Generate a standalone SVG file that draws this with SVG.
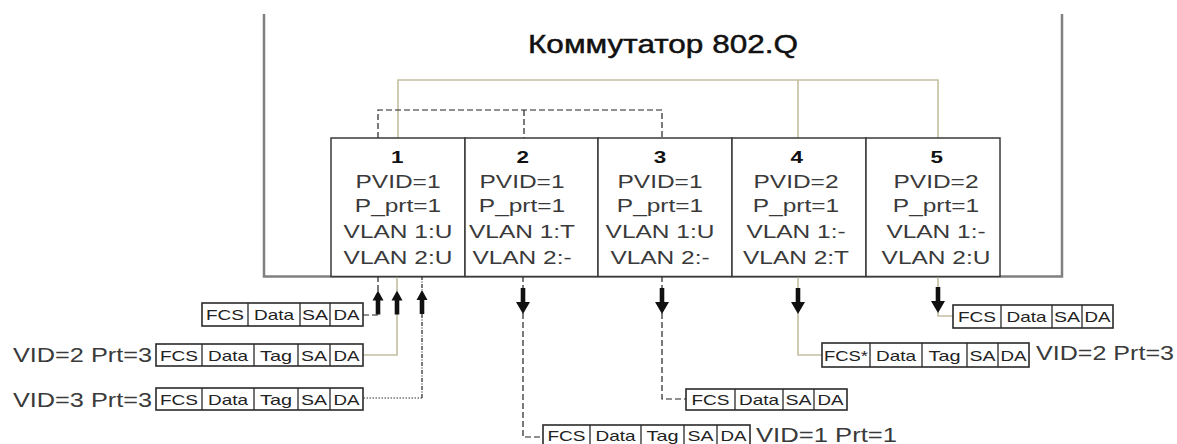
<svg xmlns="http://www.w3.org/2000/svg" width="1177" height="444" viewBox="0 0 1177 444">
<style>
text{font-family:"Liberation Sans",Arial,sans-serif;fill:#222}
.title{font-size:25px;fill:#111;stroke:#111;stroke-width:0.45}
.num{font-size:16.5px;font-weight:bold;text-anchor:middle;fill:#111}
.pl{font-size:18px;text-anchor:middle;fill:#3a3a3a}
.cell{font-size:14.5px;text-anchor:middle;fill:#222}
.lbl{font-size:20.5px;fill:#3a3a3a}
.outer{fill:none;stroke:#808080;stroke-width:2.5}
.box{fill:#fff;stroke:#3a3a3a;stroke-width:1.5}
.fr{fill:#fff;stroke:#2a2a2a;stroke-width:1.6}
.dv{stroke:#2a2a2a;stroke-width:1.3}
.tan{fill:none;stroke:#c4bfa0;stroke-width:1.6}
.dash{fill:none;stroke:#222;stroke-width:1.2;stroke-dasharray:6 3}
.dot{fill:none;stroke:#333;stroke-width:1.2;stroke-dasharray:1.5 1.5}
.dd{fill:none;stroke:#222;stroke-width:1.2;stroke-dasharray:4 1.5 1 1.5}
.arr{fill:#111}
</style>
<defs>
<path id="up" d="M0,0 L5.5,10 L2.3,10 L2.3,24 L-2.3,24 L-2.3,10 L-5.5,10 Z"/>
<path id="down" d="M0,0 L-7,-12 L-2.3,-12 L-2.3,-26 L2.3,-26 L2.3,-12 L7,-12 Z"/>
</defs>

<g id="switch">
<path class="outer" d="M264,14 V276.5 H1062 V14"/>
<text class="title" x="528" y="53" textLength="270" lengthAdjust="spacingAndGlyphs">Коммутатор 802.Q</text>
</g>

<g id="connectors">
<path class="tan" d="M398,138 V80 H938 V138 M798,80 V138"/>
<path class="dash" d="M378,138 V110 H662 V138 M524,110 V138"/>
<path class="dash" d="M378,276 V291 M378,315 H363"/>
<path class="tan" d="M397,276 V291 M397,313 V355 H363"/>
<path class="dd" d="M422,276 V290 M422,314 V398"/>
<path class="dot" d="M422,398 H363"/>
<path class="dash" d="M523,276 V288 M523,313 V437 H543"/>
<path class="dash" d="M662,276 V288 M662,313 V399 H686"/>
<path class="tan" d="M798,276 V288 M798,313 V355 H822"/>
<path class="tan" d="M938,276 V288 M938,312 V316 H953"/>
<use href="#up" class="arr" x="378" y="290.5"/>
<use href="#up" class="arr" x="397" y="290.5"/>
<use href="#up" class="arr" x="422" y="290"/>
<use href="#down" class="arr" x="523" y="314"/>
<use href="#down" class="arr" x="662" y="314"/>
<use href="#down" class="arr" x="798" y="314"/>
<use href="#down" class="arr" x="938" y="313"/>
</g>

<g id="port1">
<rect class="box" x="331" y="138" width="134" height="138.5"/>
<g transform="translate(398,0) scale(1.36,1)">
<text class="num" x="-0.5" y="163">1</text>
<text class="pl" x="0" y="188">PVID=1</text>
<text class="pl" x="0" y="212">P_prt=1</text>
<text class="pl" x="0" y="238">VLAN 1:U</text>
<text class="pl" x="0" y="264">VLAN 2:U</text>
</g>
</g>
<g id="port2">
<rect class="box" x="465" y="138" width="133" height="138.5"/>
<g transform="translate(522,0) scale(1.36,1)">
<text class="num" x="0.5" y="163">2</text>
<text class="pl" x="0" y="188">PVID=1</text>
<text class="pl" x="0" y="212">P_prt=1</text>
<text class="pl" x="0" y="238">VLAN 1:T</text>
<text class="pl" x="0" y="264">VLAN 2:-</text>
</g>
</g>
<g id="port3">
<rect class="box" x="598" y="138" width="134" height="138.5"/>
<g transform="translate(660,0) scale(1.36,1)">
<text class="num" x="0" y="163">3</text>
<text class="pl" x="0" y="188">PVID=1</text>
<text class="pl" x="0" y="212">P_prt=1</text>
<text class="pl" x="0" y="238">VLAN 1:U</text>
<text class="pl" x="0" y="264">VLAN 2:-</text>
</g>
</g>
<g id="port4">
<rect class="box" x="732" y="138" width="134" height="138.5"/>
<g transform="translate(796,0) scale(1.36,1)">
<text class="num" x="0.5" y="163">4</text>
<text class="pl" x="0" y="188">PVID=2</text>
<text class="pl" x="0" y="212">P_prt=1</text>
<text class="pl" x="0" y="238">VLAN 1:-</text>
<text class="pl" x="0" y="264">VLAN 2:T</text>
</g>
</g>
<g id="port5">
<rect class="box" x="866" y="138" width="134" height="138.5"/>
<g transform="translate(936,0) scale(1.36,1)">
<text class="num" x="0.5" y="163">5</text>
<text class="pl" x="0" y="188">PVID=2</text>
<text class="pl" x="0" y="212">P_prt=1</text>
<text class="pl" x="0" y="238">VLAN 1:-</text>
<text class="pl" x="0" y="264">VLAN 2:U</text>
</g>
</g>

<g id="frame-in-untagged">
<rect class="fr" x="202" y="303" width="161" height="23"/>
<path class="dv" d="M248,303 V326 M300,303 V326 M330,303 V326"/>
<text class="cell" x="225" y="320" textLength="38" lengthAdjust="spacingAndGlyphs">FCS</text>
<text class="cell" x="274" y="320" textLength="40" lengthAdjust="spacingAndGlyphs">Data</text>
<text class="cell" x="315" y="320" textLength="26" lengthAdjust="spacingAndGlyphs">SA</text>
<text class="cell" x="346.5" y="320" textLength="26" lengthAdjust="spacingAndGlyphs">DA</text>
</g>
<g id="frame-in-vid2">
<rect class="fr" x="156" y="344" width="207" height="22"/>
<path class="dv" d="M202,344 V366 M254,344 V366 M298,344 V366 M330,344 V366"/>
<text class="cell" x="179" y="361" textLength="38" lengthAdjust="spacingAndGlyphs">FCS</text>
<text class="cell" x="228" y="361" textLength="40" lengthAdjust="spacingAndGlyphs">Data</text>
<text class="cell" x="276" y="361" textLength="32" lengthAdjust="spacingAndGlyphs">Tag</text>
<text class="cell" x="314" y="361" textLength="26" lengthAdjust="spacingAndGlyphs">SA</text>
<text class="cell" x="346.5" y="361" textLength="26" lengthAdjust="spacingAndGlyphs">DA</text>
<text class="lbl" x="13" y="361.5" textLength="139" lengthAdjust="spacingAndGlyphs">VID=2 Prt=3</text>
</g>
<g id="frame-in-vid3">
<rect class="fr" x="156" y="388" width="207" height="22"/>
<path class="dv" d="M202,388 V410 M254,388 V410 M298,388 V410 M330,388 V410"/>
<text class="cell" x="179" y="405" textLength="38" lengthAdjust="spacingAndGlyphs">FCS</text>
<text class="cell" x="228" y="405" textLength="40" lengthAdjust="spacingAndGlyphs">Data</text>
<text class="cell" x="276" y="405" textLength="32" lengthAdjust="spacingAndGlyphs">Tag</text>
<text class="cell" x="314" y="405" textLength="26" lengthAdjust="spacingAndGlyphs">SA</text>
<text class="cell" x="346.5" y="405" textLength="26" lengthAdjust="spacingAndGlyphs">DA</text>
<text class="lbl" x="13" y="406.5" textLength="139" lengthAdjust="spacingAndGlyphs">VID=3 Prt=3</text>
</g>
<g id="frame-out-port2">
<rect class="fr" x="543" y="425" width="207" height="22"/>
<path class="dv" d="M590,425 V447 M641,425 V447 M684,425 V447 M717,425 V447"/>
<text class="cell" x="566.5" y="441" textLength="38" lengthAdjust="spacingAndGlyphs">FCS</text>
<text class="cell" x="615.5" y="441" textLength="40" lengthAdjust="spacingAndGlyphs">Data</text>
<text class="cell" x="662.5" y="441" textLength="32" lengthAdjust="spacingAndGlyphs">Tag</text>
<text class="cell" x="700.5" y="441" textLength="26" lengthAdjust="spacingAndGlyphs">SA</text>
<text class="cell" x="733.5" y="441" textLength="26" lengthAdjust="spacingAndGlyphs">DA</text>
<text class="lbl" x="756" y="442" textLength="141" lengthAdjust="spacingAndGlyphs">VID=1 Prt=1</text>
</g>
<g id="frame-out-port3">
<rect class="fr" x="686" y="389" width="161" height="21"/>
<path class="dv" d="M735,389 V410 M783,389 V410 M814,389 V410"/>
<text class="cell" x="710.5" y="405" textLength="38" lengthAdjust="spacingAndGlyphs">FCS</text>
<text class="cell" x="759" y="405" textLength="40" lengthAdjust="spacingAndGlyphs">Data</text>
<text class="cell" x="798.5" y="405" textLength="26" lengthAdjust="spacingAndGlyphs">SA</text>
<text class="cell" x="830.5" y="405" textLength="26" lengthAdjust="spacingAndGlyphs">DA</text>
</g>
<g id="frame-out-port4">
<rect class="fr" x="822" y="343" width="207" height="24"/>
<path class="dv" d="M870,343 V367 M922,343 V367 M967,343 V367 M998,343 V367"/>
<text class="cell" x="846" y="360.5" textLength="44" lengthAdjust="spacingAndGlyphs">FCS*</text>
<text class="cell" x="896" y="360.5" textLength="40" lengthAdjust="spacingAndGlyphs">Data</text>
<text class="cell" x="944.5" y="360.5" textLength="32" lengthAdjust="spacingAndGlyphs">Tag</text>
<text class="cell" x="982.5" y="360.5" textLength="26" lengthAdjust="spacingAndGlyphs">SA</text>
<text class="cell" x="1013.5" y="360.5" textLength="26" lengthAdjust="spacingAndGlyphs">DA</text>
<text class="lbl" x="1036" y="359.5" textLength="138" lengthAdjust="spacingAndGlyphs">VID=2 Prt=3</text>
</g>
<g id="frame-out-port5">
<rect class="fr" x="953" y="305" width="160" height="23"/>
<path class="dv" d="M1001,305 V328 M1052,305 V328 M1082,305 V328"/>
<text class="cell" x="977" y="322" textLength="38" lengthAdjust="spacingAndGlyphs">FCS</text>
<text class="cell" x="1026.5" y="322" textLength="40" lengthAdjust="spacingAndGlyphs">Data</text>
<text class="cell" x="1067" y="322" textLength="26" lengthAdjust="spacingAndGlyphs">SA</text>
<text class="cell" x="1097.5" y="322" textLength="26" lengthAdjust="spacingAndGlyphs">DA</text>
</g>
</svg>
